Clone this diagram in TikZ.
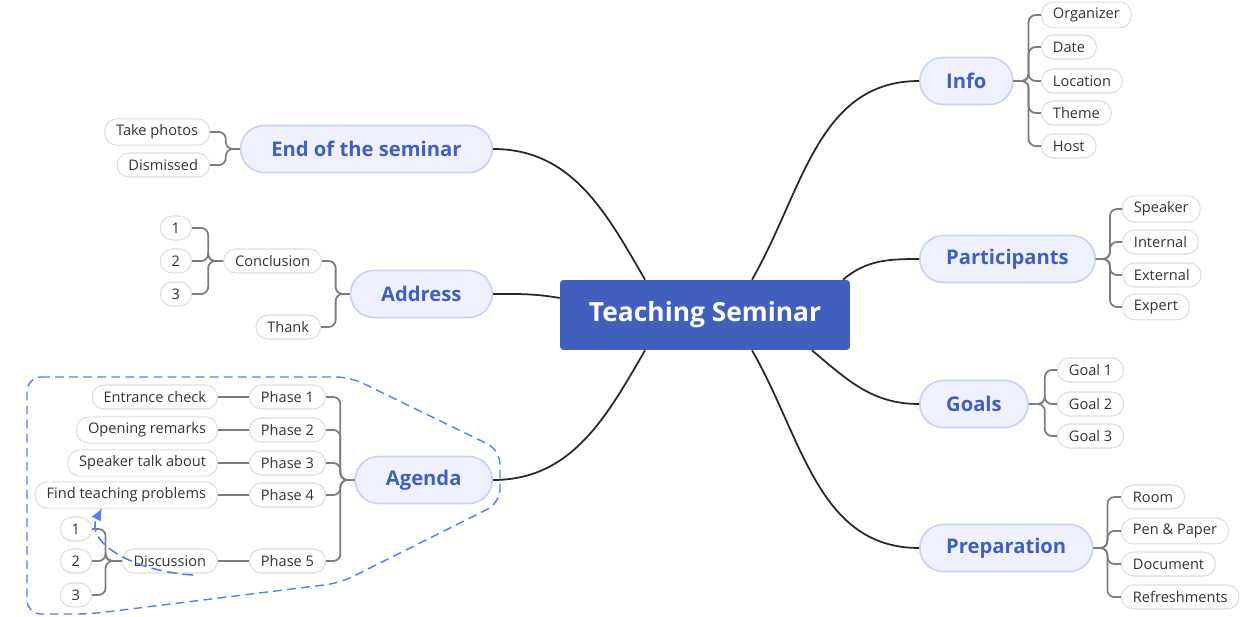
\documentclass[tikz,border=0pt]{standalone}
\usepackage{fontspec}
\setmainfont{Open Sans}
\usetikzlibrary{arrows.meta}
\definecolor{seminarblue}{RGB}{65,96,190}
\definecolor{branchfill}{RGB}{239,241,255}
\definecolor{branchborder}{RGB}{200,208,255}
\definecolor{leafborder}{RGB}{222,222,222}
\definecolor{leaftext}{RGB}{51,51,51}
\definecolor{kidgray}{RGB}{125,125,125}
\definecolor{maingray}{RGB}{40,40,40}
\definecolor{framblue}{RGB}{85,125,255}

\begin{document}
\begin{tikzpicture}[x=0.02cm,y=0.02cm,>/.tip={Latex[length=7pt,width=6pt]},
	topic/.style={fill=seminarblue,text=white,font=\fontsize{15}{18}\selectfont\bfseries,rounded corners=2pt,minimum width=5.8cm,minimum height=1.4cm},
	branch/.style={draw=branchborder,line width=0.9pt,fill=branchfill,text=seminarblue,font=\fontsize{11.5}{13}\selectfont\bfseries,rounded corners=0.47cm,minimum height=0.94cm},
	right branch/.style={branch,anchor=west,inner xsep=15pt},
	left branch/.style={branch,anchor=east,inner xsep=17.5pt},
	leaf/.style={draw=leafborder,line width=0.6pt,fill=white,text=leaftext,font=\fontsize{8.3}{10}\selectfont,rounded corners=0.24cm,minimum height=0.48cm,inner xsep=6.5pt},
	main line/.style={draw=maingray,line width=1pt},
	kid line/.style={draw=kidgray,line width=1pt,rounded corners=4pt}]
	\useasboundingbox (0,0) rectangle (1240,616);

	\node (seminar) [topic] at (705,301) {Teaching Seminar};
	\node (info) [right branch] at (919,535) {Info};
	\node (part) [right branch] at (919,357) {Participants};
	\node (goals) [right branch] at (919,212) {Goals};
	\node (prep) [right branch] at (919,68) {Preparation};
	\node (end) [left branch] at (493,467) {End of the seminar};
	\node (address) [left branch] at (493,322) {Address};
	\node (agenda) [left branch] at (493,136) {Agenda};

	\draw[main line] ([xshift=0.94cm]seminar.north) to[out=60,in=180] (info.west);
	\draw[main line] ([xshift=2.76cm]seminar.north) to[out=40,in=180] (part.west);
	\draw[main line] ([xshift=2.14cm]seminar.south) to[out=-40,in=180] (goals.west);
	\draw[main line] ([xshift=0.94cm]seminar.south) to[out=-60,in=180] (prep.west);
	\draw[main line] ([xshift=-1.2cm]seminar.north) to[out=120,in=0] (end.east);
	\draw[main line] ([yshift=0.34cm]seminar.west) to[out=170,in=0] (address.east);
	\draw[main line] ([xshift=-1.2cm]seminar.south) to[out=-120,in=0] (agenda.east);

	\node (org) [leaf,anchor=west] at (1041,601) {Organizer};
	\node (date) [leaf,anchor=west] at (1041,569) {Date};
	\node (loc) [leaf,anchor=west] at (1041,535) {Location};
	\node (theme) [leaf,anchor=west] at (1041,503) {Theme};
	\node (host) [leaf,anchor=west] at (1041,470) {Host};
	\foreach \k in {org,date,loc,theme,host}
		\draw[kid line] (info.east) -- ++(15,0) |- (\k.west);

	\node (speaker) [leaf,anchor=west] at (1122,407) {Speaker};
	\node (internal) [leaf,anchor=west] at (1122,374) {Internal};
	\node (external) [leaf,anchor=west] at (1122,341) {External};
	\node (expert) [leaf,anchor=west] at (1122,309) {Expert};
	\foreach \k in {speaker,internal,external,expert}
		\draw[kid line] (part.east) -- ++(14,0) |- (\k.west);

	\node (goal1) [leaf,anchor=west] at (1057,246) {Goal 1};
	\node (goal2) [leaf,anchor=west] at (1057,212) {Goal 2};
	\node (goal3) [leaf,anchor=west] at (1057,180) {Goal 3};
	\foreach \k in {goal1,goal2,goal3}
		\draw[kid line] (goals.east) -- ++(16,0) |- (\k.west);

	\node (room) [leaf,anchor=west] at (1121,119) {Room};
	\node (pen) [leaf,anchor=west] at (1121,85) {Pen \& Paper};
	\node (doc) [leaf,anchor=west] at (1121,52) {Document};
	\node (refresh) [leaf,anchor=west] at (1121,19) {Refreshments};
	\foreach \k in {room,pen,doc,refresh}
		\draw[kid line] (prep.east) -- ++(14,0) |- (\k.west);

	\node (photos) [leaf,anchor=east] at (210,484) {Take photos};
	\node (dismiss) [leaf,anchor=east] at (210,451) {Dismissed};
	\foreach \k in {photos,dismiss}
		\draw[kid line] (end.west) -- ++(-14,0) |- (\k.east);

	\node (concl) [leaf,anchor=east] at (322,355) {Conclusion};
	\node (thank) [leaf,anchor=east] at (321,289) {Thank};
	\foreach \k in {concl,thank}
		\draw[kid line] (address.west) -- ++(-14,0) |- (\k.east);
	\node (c1) [leaf,anchor=east] at (192,388) {1};
	\node (c2) [leaf,anchor=east] at (192,355) {2};
	\node (c3) [leaf,anchor=east] at (192,322) {3};
	\foreach \k in {c1,c2,c3}
		\draw[kid line] (concl.west) -- ++(-15,0) |- (\k.east);

	\node (ph1) [leaf,anchor=east] at (326,219) {Phase 1};
	\node (ph2) [leaf,anchor=east] at (326,186) {Phase 2};
	\node (ph3) [leaf,anchor=east] at (326,153) {Phase 3};
	\node (ph4) [leaf,anchor=east] at (326,121) {Phase 4};
	\node (ph5) [leaf,anchor=east] at (326,55) {Phase 5};
	\foreach \k in {ph1,ph2,ph3,ph4,ph5}
		\draw[kid line] (agenda.west) -- ++(-14,0) |- (\k.east);
	\node (entrance) [leaf,anchor=east] at (218,219) {Entrance check};
	\node (opening) [leaf,anchor=east] at (218,186) {Opening remarks};
	\node (talk) [leaf,anchor=east] at (218,153) {Speaker talk about};
	\node (problems) [leaf,anchor=east] at (218,121) {Find teaching problems};
	\node (discuss) [leaf,anchor=east] at (218,55) {Discussion};
	\foreach \p/\k in {ph1/entrance,ph2/opening,ph3/talk,ph4/problems,ph5/discuss}
		\draw[kid line] (\p.west) -- (\k.east);
	\node (d1) [leaf,anchor=east] at (92,87) {1};
	\node (d2) [leaf,anchor=east] at (92,55) {2};
	\node (d3) [leaf,anchor=east] at (92,21) {3};
	\foreach \k in {d1,d2,d3}
		\draw[kid line] (discuss.west) -- ++(-16,0) |- (\k.east);

	\draw[framblue,line width=0.8pt,dash pattern=on 5pt off 3pt,rounded corners=8pt]
		(27,239) -- (350,239) -- (500,166) -- (500,113) -- (340,33) -- (90,2) -- (27,2) -- cycle;
	\coordinate (loop start) at (193,41);
	\coordinate (loop end) at (102,108);
	\draw[->,framblue,line width=0.9pt,dash pattern=on 6pt off 3pt] (loop start) .. controls (130,45) and (85,75) .. (loop end);
\end{tikzpicture}
\end{document}
